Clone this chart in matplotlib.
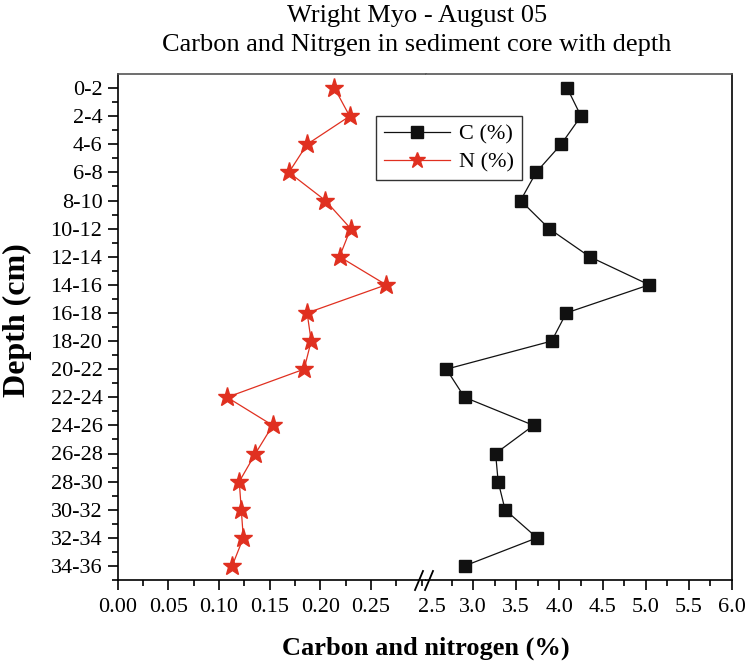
import matplotlib.pyplot as plt
from matplotlib.lines import Line2D
from matplotlib.ticker import MultipleLocator

plt.rcParams["font.family"] = ["Liberation Serif", "DejaVu Serif"]

depth = ["0-2", "2-4", "4-6", "6-8", "8-10", "10-12", "12-14", "14-16", "16-18",
         "18-20", "20-22", "22-24", "24-26", "26-28", "28-30", "30-32", "32-34", "34-36"]
carbon = [4.09, 4.25, 4.02, 3.73, 3.55, 3.88, 4.35, 5.04, 4.08,
          3.91, 2.69, 2.90, 3.70, 3.26, 3.29, 3.37, 3.74, 2.90]
nitrogen = [0.214, 0.229, 0.187, 0.169, 0.205, 0.230, 0.219, 0.265, 0.187,
            0.191, 0.184, 0.108, 0.153, 0.136, 0.120, 0.122, 0.124, 0.113]

W, H = 749, 666
fig = plt.figure(figsize=(W / 100, H / 100), dpi=100)

left, brk, right = 117.7, 426, 732
top, bottom = 74, 580
ax1 = fig.add_axes([left / W, 1 - bottom / H, (brk - left) / W, (bottom - top) / H])
ax2 = fig.add_axes([brk / W, 1 - bottom / H, (right - brk) / W, (bottom - top) / H])

y = list(range(len(depth)))
ax1.plot(nitrogen, y, color="#e03020", lw=0.9, marker="*", ms=14,
         markerfacecolor="#e03020", markeredgecolor="#e03020")
ax2.plot(carbon, y, color="#111111", lw=0.9, marker="s", ms=9,
         markerfacecolor="#111111", markeredgecolor="#111111")

ax1.set_xlim(0, (brk - left) / 1013)
ax2.set_xlim(2.5 - (430 - brk) / 86.3, 6.0)

for ax in (ax1, ax2):
    ax.set_ylim(len(depth) - 0.5, -0.5)
    for s in ax.spines.values():
        s.set_linewidth(1.2)
    ax.tick_params(axis="x", which="major", direction="out", length=7, width=1.2,
                   labelsize=16, pad=6)
    ax.tick_params(axis="x", which="minor", direction="out", length=4, width=1.2)
    ax.tick_params(top=False, right=False)

ax1.spines["right"].set_visible(False)
ax2.spines["left"].set_visible(False)
ax1.spines["top"].set_color("#555555")
ax2.spines["top"].set_color("#555555")

ax1.xaxis.set_minor_locator(MultipleLocator(0.025))
ax1.set_xticks([0, 0.05, 0.10, 0.15, 0.20, 0.25])
ax1.set_xticklabels(["0.00", "0.05", "0.10", "0.15", "0.20", "0.25"])
ax2.set_xticks([3.0, 3.5, 4.0, 4.5, 5.0, 5.5, 6.0])
ax2.set_xticklabels(["3.0", "3.5", "4.0", "4.5", "5.0", "5.5", "6.0"])
ax2.set_xticks([2.75, 3.25, 3.75, 4.25, 4.75, 5.25, 5.75], minor=True)

ax1.set_yticks(y)
ax1.set_yticklabels(depth)
ax1.set_yticks([i + 0.5 for i in y], minor=True)
ax1.tick_params(axis="y", which="major", direction="out", length=7, width=1.2,
                labelsize=16, pad=4)
ax1.tick_params(axis="y", which="minor", direction="out", length=4, width=1.2)
ax2.tick_params(axis="y", which="both", left=False, labelleft=False)

# 2.5 label sits at the break
fig.text(432 / W, 1 - 598 / H, "2.5", fontsize=16, ha="center", va="top")

# break marks
for cx in (419, 429):
    fig.add_artist(Line2D([(cx - 4) / W, (cx + 4) / W], [1 - 590 / H, 1 - 571 / H],
                          color="black", lw=1.3))

handles = [
    Line2D([], [], color="#111111", lw=0.9, marker="s", ms=9),
    Line2D([], [], color="#e03020", lw=0.9, marker="*", ms=12),
]
leg = fig.legend(handles, ["C (%)", "N (%)"], loc="upper left",
                 bbox_to_anchor=(376 / W, 1 - 116 / H), fontsize=16,
                 frameon=True, fancybox=False, edgecolor="black",
                 borderaxespad=0, handlelength=3.0, borderpad=0.35,
                 labelspacing=0.35, handletextpad=0.4)
leg.get_frame().set_linewidth(1.0)

fig.text(417 / W, 1 - 16 / H, "Wright Myo - August 05", fontsize=19,
         ha="center", va="center")
fig.text(417 / W, 1 - 45 / H, "Carbon and Nitrgen in sediment core with depth",
         fontsize=19, ha="center", va="center")
fig.text(426 / W, 1 - 648 / H, "Carbon and nitrogen (%)", fontsize=19,
         fontweight="bold", ha="center", va="center")
fig.text(17 / W, 1 - 320 / H, "Depth (cm)", fontsize=23, fontweight="bold",
         ha="center", va="center", rotation=90)

plt.savefig("out.png", dpi=100)
